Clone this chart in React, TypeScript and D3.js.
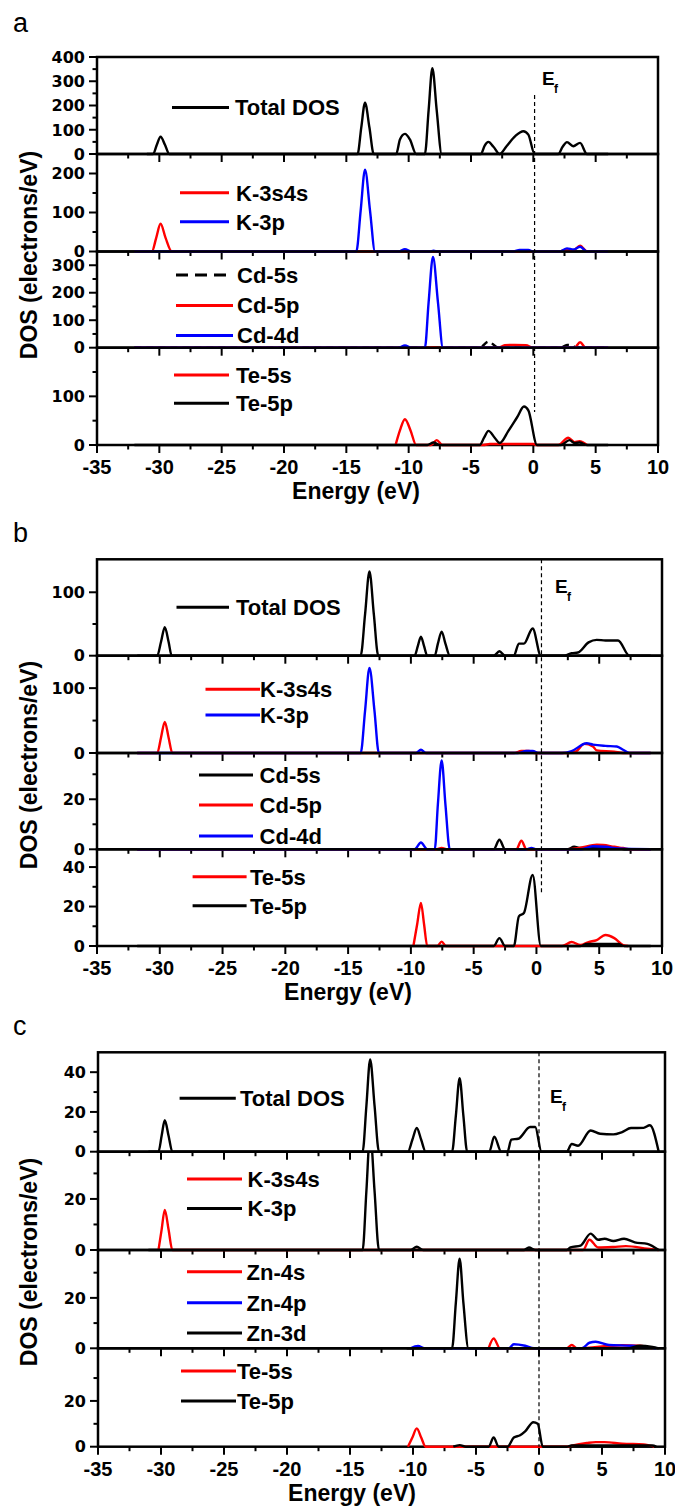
import React from "react";
import * as d3 from "d3";

type Pt = [number, number];

const ENERGY_TICKS = [-35, -30, -25, -20, -15, -10, -5, 0, 5, 10];
const ENERGY_MINOR = [-32.5, -27.5, -22.5, -17.5, -12.5, -7.5, -2.5, 2.5, 7.5];

// ---------------- Figure a (KCdTe) ----------------
const aTotal: Pt[] = [[-31, 0], [-30.5, 0], [-30.2, 38], [-29.9, 71], [-29.55, 38], [-29.2, 0], [-14.1, 0], [-13.8, 110], [-13.5, 212], [-13.15, 110], [-12.8, 0], [-11.0, 0], [-10.7, 60], [-10.3, 83], [-9.9, 60], [-9.4, 0], [-8.7, 0], [-8.4, 180], [-8.1, 354], [-7.75, 180], [-7.35, 0], [-4.2, 0], [-3.9, 35], [-3.6, 50], [-3.2, 30], [-2.7, 0], [-2.15, 32], [-1.45, 74], [-0.8, 94], [-0.4, 80], [0.1, 0], [2.0, 0], [2.35, 30], [2.7, 49], [3.2, 32], [3.75, 46], [4.3, 0], [6, 0]];
const aK3s4s: Pt[] = [[-32, 0], [-30.6, 0], [-30.25, 35], [-29.9, 71], [-29.5, 35], [-29.0, 0], [-1.2, 0], [-0.8, 2], [-0.3, 0], [2.0, 0], [2.7, 5], [3.2, 3], [3.75, 15], [4.3, 0], [6, 0]];
const aK3p: Pt[] = [[-32, 0], [-14.2, 0], [-13.85, 105], [-13.5, 210], [-13.1, 105], [-12.7, 0], [-10.8, 0], [-10.3, 6], [-9.8, 0], [-8.3, 0], [-8.0, 2], [-7.7, 0], [-1.6, 0], [-1.1, 4], [-0.4, 4], [0, 0], [2.1, 0], [2.7, 8], [3.2, 5], [3.75, 12], [4.3, 0], [6, 0]];
const aCd5s: Pt[] = [[-32, 0], [-4.3, 0], [-3.6, 22], [-2.8, 0], [2.2, 0], [2.7, 10], [3.1, 9], [3.4, 0], [6, 0]];
const aCd5p: Pt[] = [[-32, 0], [-8.5, 0], [-8.0, 2], [-7.6, 0], [-2.8, 0], [-2.3, 9], [-1.5, 10], [-0.6, 9], [0, 0], [3.3, 0], [3.75, 20], [4.2, 0], [6, 0]];
const aCd4d: Pt[] = [[-32, 0], [-10.8, 0], [-10.3, 8], [-9.8, 0], [-8.7, 0], [-8.4, 165], [-8.05, 330], [-7.65, 165], [-7.25, 0], [6, 0]];
const aTe5s: Pt[] = [[-11.05, 0], [-10.7, 30], [-10.3, 53], [-9.85, 30], [-9.4, 0], [-8.2, 0], [-7.75, 10], [-7.3, 0], [-4.0, 0], [-3.5, 2], [0, 2], [0.3, 0], [2.0, 0], [2.8, 15], [3.3, 6], [3.7, 8], [4.3, 0]];
const aTe5p: Pt[] = [[-32, 0], [-8.5, 0], [-8.0, 5], [-7.5, 0], [-4.3, 0], [-3.95, 15], [-3.6, 29], [-3.1, 15], [-2.7, 4], [-2.0, 29], [-1.3, 57], [-0.75, 79], [-0.4, 71], [0.3, 0], [2.2, 0], [2.9, 10], [3.3, 4], [3.7, 5], [4.3, 0], [6, 0]];

// ---------------- Figure b ----------------
const bTotal: Pt[] = [[-31.8, 0], [-30.2, 0], [-29.9, 22], [-29.6, 45], [-29.3, 22], [-29.05, 0], [-14.0, 0], [-13.65, 65], [-13.3, 133], [-12.95, 65], [-12.6, 0], [-9.7, 0], [-9.45, 15], [-9.2, 30], [-8.95, 15], [-8.7, 0], [-8.1, 0], [-7.85, 19], [-7.55, 38], [-7.25, 19], [-6.9, 0], [-3.4, 0], [-2.95, 7], [-2.5, 0], [-1.8, 0], [-1.4, 19], [-1.0, 19], [-0.3, 43], [0.35, 0], [2.2, 0], [2.8, 4], [3.3, 5], [4.15, 21], [4.8, 25], [5.5, 24], [6.5, 24], [7.4, 0], [9.1, 0]];
const bK3s4s: Pt[] = [[-31.8, 0], [-30.2, 0], [-29.9, 24], [-29.6, 48], [-29.3, 24], [-29.0, 0], [-1.8, 0], [-1.2, 3], [-0.6, 3], [-0.2, 0], [2.5, 0], [3.2, 3], [3.8, 14], [4.5, 10], [4.8, 4], [6.2, 2], [6.9, 0], [9.1, 0]];
const bK3p: Pt[] = [[-31.8, 0], [-14.0, 0], [-13.65, 65], [-13.3, 131], [-12.9, 65], [-12.55, 0], [-9.6, 0], [-9.2, 5], [-8.8, 0], [-1.5, 0], [-0.8, 3], [-0.3, 3], [0.2, 0], [2.05, 0], [2.8, 3], [4.0, 15], [4.5, 13], [5.5, 11], [6.4, 10], [6.9, 5], [7.4, 0], [9.1, 0]];
const bCd5s: Pt[] = [[-31.8, 0], [-3.4, 0], [-2.95, 3.8], [-2.5, 0], [2.5, 0], [3.0, 1], [3.5, 0.5], [6.5, 0.5], [7, 0], [9.1, 0]];
const bCd5p: Pt[] = [[-31.8, 0], [-8.0, 0], [-7.55, 0.5], [-7.1, 0], [-1.6, 0], [-1.2, 3.4], [-0.8, 0], [2.5, 0], [3.5, 0.6], [4.8, 1.8], [5.3, 1.7], [6.2, 1], [6.9, 0.5], [7.5, 0], [9.1, 0]];
const bCd4d: Pt[] = [[-31.8, 0], [-9.7, 0], [-9.2, 2.7], [-8.7, 0], [-8.1, 0], [-7.85, 18], [-7.55, 35.5], [-7.25, 18], [-6.9, 0], [-0.8, 0], [-0.4, 0.5], [0, 0], [3.5, 0], [4.5, 1.2], [5.5, 1], [6.5, 0.3], [9.1, 0]];
const bTe5s: Pt[] = [[-9.8, 0], [-9.5, 11], [-9.2, 21.8], [-8.95, 11], [-8.7, 0], [-7.9, 0], [-7.55, 2.2], [-7.2, 0], [2.05, 0], [2.8, 2], [3.5, 0.5], [4.15, 2], [4.8, 3], [5.5, 5.6], [6.2, 4], [6.9, 0.5], [7.3, 0]];
const bTe5p: Pt[] = [[-31.8, 0], [-3.4, 0], [-2.95, 4], [-2.5, 0], [-1.8, 0], [-1.4, 15], [-1.0, 16.7], [-0.3, 36], [0.35, 0], [3.5, 0], [4, 1], [6.5, 1], [7, 0], [9.1, 0]];

// ---------------- Figure c ----------------
const cTotal: Pt[] = [[-31, 0], [-30.2, 0], [-29.95, 8], [-29.7, 15.8], [-29.4, 8], [-29.1, 0], [-14.0, 0], [-13.7, 23], [-13.4, 46.4], [-13.05, 23], [-12.7, 0], [-10.4, 0], [-10.05, 6], [-9.7, 11.9], [-9.35, 6], [-9.0, 0], [-6.9, 0], [-6.6, 18], [-6.3, 37], [-6.0, 18], [-5.7, 0], [-3.95, 0], [-3.55, 7.6], [-3.0, 0], [-2.5, 0], [-2.2, 6.1], [-1.65, 6.5], [-0.7, 12.4], [-0.3, 12.4], [0.2, 0], [2.2, 0], [2.6, 3.9], [3.1, 3], [4.1, 10.7], [4.85, 9], [5.9, 8.7], [6.6, 9.9], [7.3, 11.9], [8.3, 12], [8.8, 13.3], [9.5, 0]];
const cK3s4s: Pt[] = [[-30.2, 0], [-29.95, 8], [-29.7, 15.7], [-29.4, 8], [-29.1, 0], [3.5, 0], [4.0, 4], [4.7, 1], [5.9, 1.2], [6.9, 1.5], [8.6, 0.5], [9.5, 0]];
const cK3p: Pt[] = [[-31, 0], [-14.0, 0], [-13.7, 23], [-13.4, 46], [-13.05, 23], [-12.7, 0], [-10.2, 0], [-9.7, 1.3], [-9.2, 0], [-1.2, 0], [-0.8, 1], [-0.3, 0], [2.2, 0], [2.5, 1], [3.3, 1.7], [4.1, 6.4], [4.7, 4], [5.2, 4.4], [5.9, 3.5], [6.75, 4.4], [7.6, 3], [8.6, 2.4], [9.5, 0]];
const cZn4s: Pt[] = [[-4.0, 0], [-3.6, 3.9], [-3.1, 0], [2.2, 0], [2.6, 1.3], [3.0, 0], [6.6, 1.2], [8, 1], [9, 0]];
const cZn4p: Pt[] = [[-10.2, 0], [-9.6, 0.9], [-9.1, 0], [-2.4, 0], [-2.0, 1.6], [-1.1, 1], [-0.4, 0], [3.4, 0], [4.0, 2.2], [4.5, 2.6], [5.55, 1.3], [7.3, 1], [9.3, 0]];
const cZn3d: Pt[] = [[-10.5, 0], [-6.9, 0], [-6.6, 18], [-6.3, 35.5], [-6.0, 18], [-5.6, 0], [7, 0], [8, 1], [9, 0.5], [9.5, 0]];
const cTe5s: Pt[] = [[-10.4, 0], [-10.05, 4], [-9.7, 8], [-9.35, 4], [-9.0, 0], [2.2, 0], [2.6, 0.5], [3.8, 1.6], [4.5, 2], [5.2, 2], [6.6, 1.3], [8.3, 1], [9.15, 0]];
const cTe5p: Pt[] = [[-6.8, 0], [-6.3, 0.7], [-5.8, 0], [-4.0, 0], [-3.6, 4], [-3.2, 0], [-2.5, 0], [-2.0, 4], [-1.5, 5], [-1.1, 6.7], [-0.45, 10.7], [-0.1, 10], [0.3, 0], [2.2, 0], [2.6, 0.5], [9, 0.5], [9.3, 0]];

const RED = "#ff0000";
const BLUE = "#0000ff";
const BLACK = "#000000";

interface Series { name: string; data: Pt[]; color: string; dashed?: boolean }
interface Panel { max: number; major: number[]; minor: number[]; series: Series[]; legendYs: number[]; legendX: [number, number, number] }
interface Figure {
  letter: string; letterY: number; x0: number; x1: number; top: number; zeros: number[];
  ef: number; efTop: number; efBottom: number; efLabel: [number, number];
  energyX: number; dosY: number; panels: Panel[];
}

const figures: Figure[] = [
  {
    letter: "a", letterY: 32, x0: 97, x1: 658, top: 57, zeros: [154, 251.5, 347.7, 445],
    ef: 0.1, efTop: 95, efBottom: 412, efLabel: [542, 85], energyX: 356, dosY: 255,
    panels: [
      { max: 400, major: [0, 100, 200, 300, 400], minor: [50, 150, 250, 350], legendYs: [107.5], legendX: [172, 229, 235],
        series: [{ name: "Total DOS", data: aTotal, color: BLACK }] },
      { max: 250, major: [0, 100, 200], minor: [50, 150], legendYs: [192.7, 221.7], legendX: [180, 229, 236],
        series: [{ name: "K-3s4s", data: aK3s4s, color: RED }, { name: "K-3p", data: aK3p, color: BLUE }] },
      { max: 350, major: [0, 100, 200, 300], minor: [50, 150, 250], legendYs: [275, 305.5, 335.5], legendX: [176, 233, 237],
        series: [{ name: "Cd-5s", data: aCd5s, color: BLACK, dashed: true }, { name: "Cd-5p", data: aCd5p, color: RED }, { name: "Cd-4d", data: aCd4d, color: BLUE }] },
      { max: 200, major: [0, 100], minor: [50, 150], legendYs: [375, 403.3], legendX: [174, 229, 236],
        series: [{ name: "Te-5s", data: aTe5s, color: RED }, { name: "Te-5p", data: aTe5p, color: BLACK }] },
    ],
  },
  {
    letter: "b", letterY: 542, x0: 97, x1: 662, top: 559.3, zeros: [655.7, 753, 849.3, 946],
    ef: 0.4, efTop: 559.3, efBottom: 895, efLabel: [555, 593], energyX: 348, dosY: 765,
    panels: [
      { max: 152, major: [0, 100], minor: [50], legendYs: [607.3], legendX: [176.5, 229, 236],
        series: [{ name: "Total DOS", data: bTotal, color: BLACK }] },
      { max: 150, major: [0, 100], minor: [50], legendYs: [689.3, 715], legendX: [205.5, 260, 260],
        series: [{ name: "K-3s4s", data: bK3s4s, color: RED }, { name: "K-3p", data: bK3p, color: BLUE }] },
      { max: 38.5, major: [0, 20], minor: [10, 30], legendYs: [775, 805, 836], legendX: [199, 253, 259.6],
        series: [{ name: "Cd-5s", data: bCd5s, color: BLACK }, { name: "Cd-5p", data: bCd5p, color: RED }, { name: "Cd-4d", data: bCd4d, color: BLUE }] },
      { max: 49, major: [0, 20, 40], minor: [10, 30], legendYs: [876.7, 905.7], legendX: [192.6, 246.6, 250],
        series: [{ name: "Te-5s", data: bTe5s, color: RED }, { name: "Te-5p", data: bTe5p, color: BLACK }] },
    ],
  },
  {
    letter: "c", letterY: 1035, x0: 98, x1: 665, top: 1052.3, zeros: [1151.7, 1250, 1348.3, 1446.7],
    ef: 0, efTop: 1052.3, efBottom: 1446.7, efLabel: [550, 1103], energyX: 352, dosY: 1262,
    panels: [
      { max: 50, major: [0, 20, 40], minor: [10, 30], legendYs: [1098.3], legendX: [179.6, 235.8, 240],
        series: [{ name: "Total DOS", data: cTotal, color: BLACK }] },
      { max: 38.5, major: [0, 20], minor: [10, 30], legendYs: [1179, 1208.5], legendX: [187, 242, 247.5],
        series: [{ name: "K-3s4s", data: cK3s4s, color: RED }, { name: "K-3p", data: cK3p, color: BLACK }] },
      { max: 39, major: [0, 20], minor: [10, 30], legendYs: [1271.7, 1302.7, 1333], legendX: [187, 242, 246.6],
        series: [{ name: "Zn-4s", data: cZn4s, color: RED }, { name: "Zn-4p", data: cZn4p, color: BLUE }, { name: "Zn-3d", data: cZn3d, color: BLACK }] },
      { max: 43, major: [0, 20], minor: [10, 30], legendYs: [1371, 1401], legendX: [181, 236, 237],
        series: [{ name: "Te-5s", data: cTe5s, color: RED }, { name: "Te-5p", data: cTe5p, color: BLACK }] },
    ],
  },
];

const SANS = "'Liberation Sans', Arial, Helvetica, sans-serif";
const WIDE = "'DejaVu Sans', 'Liberation Sans', sans-serif";

function FigureView({ f, idx }: { f: Figure; idx: number }) {
  const x = d3.scaleLinear().domain([-35, 10]).range([f.x0, f.x1]);
  const bottom = f.zeros[f.zeros.length - 1];
  return (
    <g>
      <text x={13} y={f.letterY} fontFamily={SANS} fontSize={27} fill="#000">{f.letter}</text>
      {f.panels.map((p, pi) => {
        const zero = f.zeros[pi];
        const ptop = pi === 0 ? f.top : f.zeros[pi - 1];
        const y = d3.scaleLinear().domain([0, p.max]).range([zero, ptop]);
        const line = d3.line<Pt>().x((d) => x(d[0])).y((d) => y(d[1])).curve(d3.curveMonotoneX);
        const clipId = `clip-${idx}-${pi}`;
        return (
          <g key={pi}>
            <defs>
              <clipPath id={clipId}>
                <rect x={f.x0} y={ptop} width={f.x1 - f.x0} height={zero - ptop + 2} />
              </clipPath>
            </defs>
            {p.major.map((v) => (
              <g key={"M" + v}>
                <line x1={f.x0 - 8} x2={f.x0} y1={y(v)} y2={y(v)} stroke="#000" strokeWidth={2} />
                <text x={f.x0 - 12} y={y(v)} dy="0.36em" textAnchor="end" fontFamily={WIDE} fontWeight="bold" fontSize={16}>{v}</text>
              </g>
            ))}
            {p.minor.map((v) => (
              <line key={"m" + v} x1={f.x0 - 4.5} x2={f.x0} y1={y(v)} y2={y(v)} stroke="#000" strokeWidth={2} />
            ))}
            {ENERGY_TICKS.map((t) => (
              <line key={"xt" + t} x1={x(t)} x2={x(t)} y1={zero} y2={zero + 8} stroke="#000" strokeWidth={2} />
            ))}
            {ENERGY_MINOR.map((t) => (
              <line key={"xm" + t} x1={x(t)} x2={x(t)} y1={zero} y2={zero + 4.5} stroke="#000" strokeWidth={2} />
            ))}
            <rect x={f.x0} y={ptop} width={f.x1 - f.x0} height={zero - ptop} fill="none" stroke="#000" strokeWidth={2.5} />
            <g clipPath={`url(#${clipId})`}>
              {p.series.map((s, si) => (
                <path key={si} d={line(s.data) || ""} fill="none" stroke={s.color} strokeWidth={2.4}
                  strokeLinejoin="round" strokeDasharray={s.dashed ? "7,5" : undefined} />
              ))}
            </g>
            {p.series.map((s, si) => (
              <g key={"lg" + si}>
                <line x1={p.legendX[0]} x2={p.legendX[1]} y1={p.legendYs[si]} y2={p.legendYs[si]} stroke={s.color}
                  strokeWidth={3} strokeDasharray={s.dashed ? "12,7" : undefined} />
                <text x={p.legendX[2]} y={p.legendYs[si]} dy="0.36em" fontFamily={SANS} fontWeight="bold" fontSize={22}>{s.name}</text>
              </g>
            ))}
          </g>
        );
      })}
      <line x1={x(f.ef)} x2={x(f.ef)} y1={f.efTop} y2={f.efBottom} stroke="#000" strokeWidth={1.2} strokeDasharray="4,3" />
      <text x={f.efLabel[0]} y={f.efLabel[1]} fontFamily={SANS} fontWeight="bold" fontSize={19}>E</text>
      <text x={f.efLabel[0] + 12} y={f.efLabel[1] + 8} fontFamily={SANS} fontWeight="bold" fontSize={12}>f</text>
      {ENERGY_TICKS.map((t) => (
        <text key={"xl" + t} x={x(t)} y={bottom + 29} textAnchor="middle" fontFamily={SANS} fontWeight="bold" fontSize={20}>{t}</text>
      ))}
      <text x={f.energyX} y={bottom + 54} textAnchor="middle" fontFamily={SANS} fontWeight="bold" fontSize={23}>Energy (eV)</text>
      <text transform={`translate(37,${f.dosY}) rotate(-90)`} textAnchor="middle" fontFamily={SANS} fontWeight="bold" fontSize={23}>DOS (electrons/eV)</text>
    </g>
  );
}

export default function App() {
  return (
    <svg width={675} height={1508} style={{ position: "absolute", left: 0, top: 0, background: "#fff" }}>
      <rect x={0} y={0} width={675} height={1508} fill="#fff" />
      {figures.map((f, i) => (
        <FigureView key={i} f={f} idx={i} />
      ))}
    </svg>
  );
}
